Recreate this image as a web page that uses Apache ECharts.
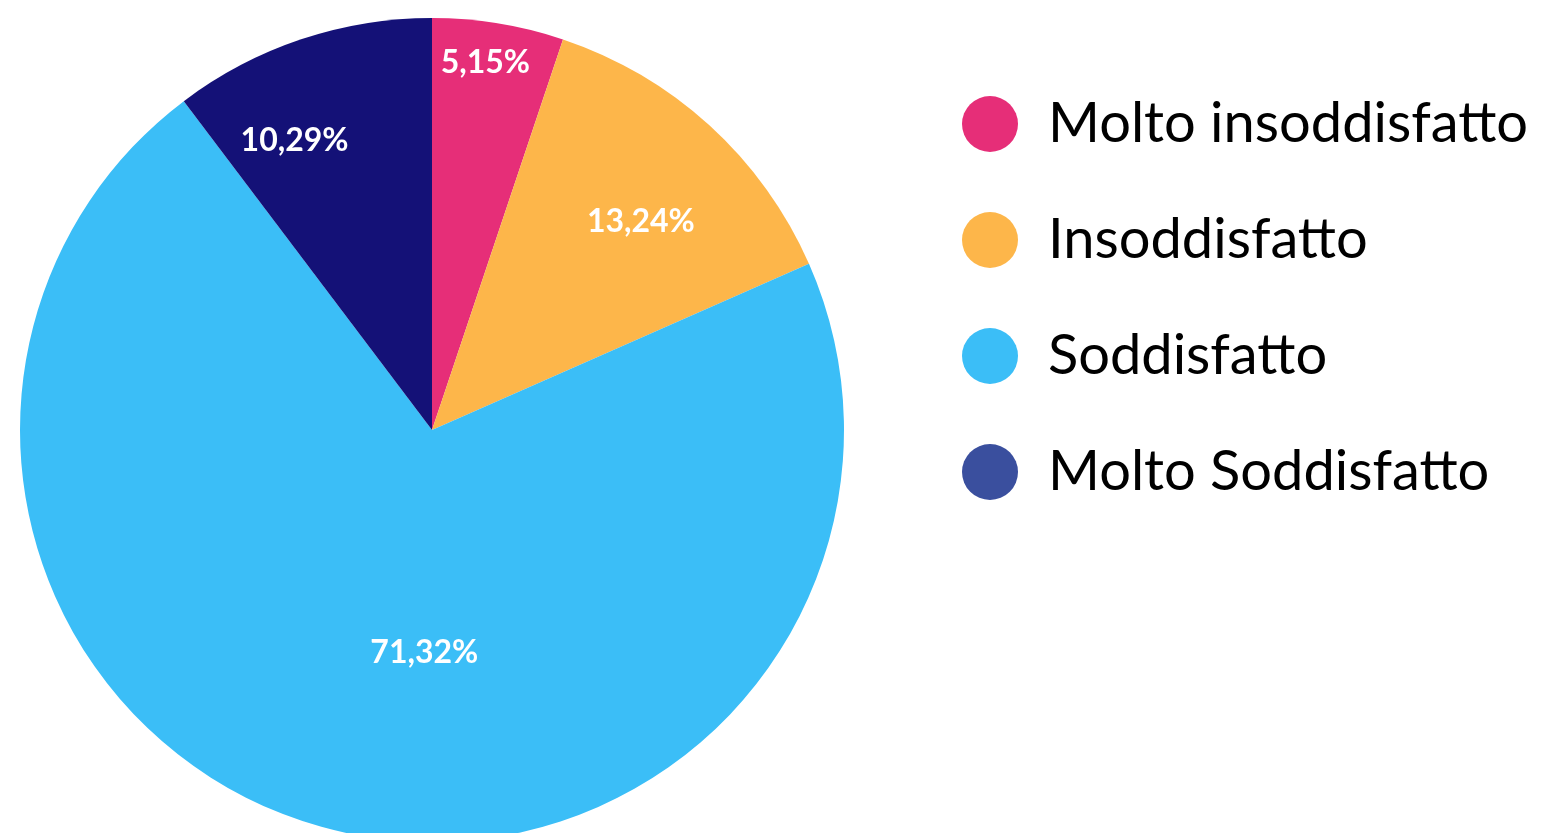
<!DOCTYPE html>
<html>
<head>
<meta charset="utf-8">
<script src="https://cdn.jsdelivr.net/npm/echarts@6/dist/echarts.min.js"></script>
<style>
  html, body { margin: 0; padding: 0; background: #fff; }
  #chart { width: 1547px; height: 833px; }
</style>
</head>
<body>
<div id="chart"></div>
<script>
// dati
const categories = ['Molto insoddisfatto', 'Insoddisfatto', 'Soddisfatto', 'Molto Soddisfatto']
const shares = [5.15, 13.24, 71.32, 10.29]

// stile
const sliceColors = ['#E62E78', '#FDB64A', '#3BBEF7', '#141177']
const legendColors = ['#E62E78', '#FDB64A', '#3BBEF7', '#3A4F9E']
const labelRadius = [0.9, 0.716, 0.54, 0.777] // frazione del raggio
const labelShift = [-1, 2.7, -12.6, -6.9] // gradi rispetto al centro della fetta
const cx = 432
const cy = 430
const R = 412

const chart = echarts.init(document.getElementById('chart'))
const total = shares.reduce((a, b) => a + b, 0)

const option = {
  animation: false,
  legend: {
    orient: 'vertical',
    left: 957,
    top: 91,
    icon: 'circle',
    itemWidth: 56,
    itemHeight: 56,
    itemGap: 60,
    selectedMode: false,
    textStyle: {
      fontFamily: 'Lato',
      fontSize: 56,
      color: '#000',
      padding: [0, 0, 0, 25]
    },
    data: categories.map((name, i) => ({ name, itemStyle: { color: legendColors[i] } }))
  },
  series: [
    {
      type: 'pie',
      center: [cx, cy],
      radius: [0, R],
      startAngle: 90,
      clockwise: true,
      silent: true,
      data: categories.map((name, i) => ({
        name,
        value: shares[i],
        itemStyle: { color: sliceColors[i] }
      })),
      label: {
        show: true,
        position: 'inside',
        color: '#fff',
        fontFamily: 'Lato',
        fontWeight: 'bold',
        fontSize: 32,
        formatter: (p) => shares[p.dataIndex].toFixed(2).replace('.', ',') + '%'
      },
      labelLine: { show: false },
      labelLayout: (p) => {
        const i = p.dataIndex
        let before = 0
        for (let k = 0; k < i; k++) before += shares[k]
        const mid = (before + shares[i] / 2) / total * Math.PI * 2 + labelShift[i] * Math.PI / 180
        const r = R * labelRadius[i]
        return {
          x: cx + r * Math.sin(mid),
          y: cy - r * Math.cos(mid),
          align: 'center',
          verticalAlign: 'middle'
        }
      }
    }
  ]
}

chart.setOption(option)
</script>
</body>
</html>
